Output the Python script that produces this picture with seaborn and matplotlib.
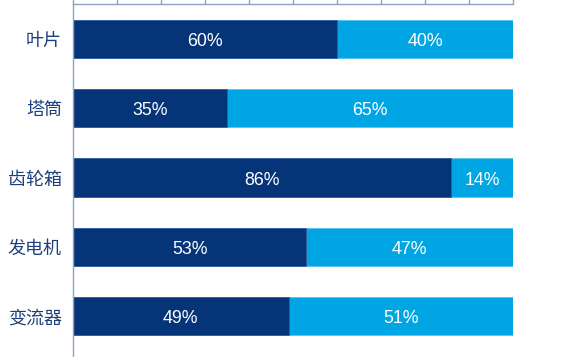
import matplotlib
matplotlib.use("Agg")
import matplotlib.pyplot as plt
import seaborn as sns
import pandas as pd

categories = ["叶片", "塔筒", "齿轮箱", "发电机", "变流器"]
dark_values = [60, 35, 86, 53, 49]
light_values = [40, 65, 14, 47, 51]

df = pd.DataFrame({"cat": categories, "dark": dark_values, "light": light_values})
df["total"] = df["dark"] + df["light"]

sns.set_style("white")
plt.rcParams["font.family"] = ["Liberation Sans", "Noto Sans CJK SC", "DejaVu Sans"]

DARK = "#063479"
LIGHT = "#00a6e4"
AXC = "#8ea2c6"

fig = plt.figure(figsize=(5.75, 3.57), dpi=100)
ax = fig.add_axes([73 / 575, (357 - 358) / 357, 440 / 575, 354 / 357])

sns.barplot(data=df, y="cat", x="total", orient="h", color=LIGHT, width=0.55,
            saturation=1, ax=ax, edgecolor="#5cc3ee", linewidth=0.6)
sns.barplot(data=df, y="cat", x="dark", orient="h", color=DARK, width=0.55,
            saturation=1, ax=ax, edgecolor="#3a5c9c", linewidth=0.6)

for i, (d, l) in enumerate(zip(dark_values, light_values)):
    for xc, v in ((d / 2, d), (d + l / 2, l)):
        ax.annotate(f"{v}%", xy=(xc, i), xytext=(0, -1.8), textcoords="offset points",
                    ha="center", va="center", color="white", fontsize=12.8)

ax.set_xlim(0, 100)
ax.set_ylim(4.6, -0.5)
ax.set_xlabel("")
ax.set_ylabel("")
ax.xaxis.tick_top()
ax.set_xticks(range(0, 101, 10))
ax.tick_params(axis="x", which="both", length=6, color=AXC, width=1, labeltop=False, labelbottom=False, direction="out")
ax.tick_params(axis="y", length=0, pad=8, labelsize=13, labelcolor="#1d3f7c")
for lab in ax.get_yticklabels():
    lab.set_fontfamily(["Noto Sans CJK SC", "DejaVu Sans"])

for s in ["right", "bottom"]:
    ax.spines[s].set_visible(False)
for s in ["top", "left"]:
    ax.spines[s].set_color(AXC)
    ax.spines[s].set_linewidth(1)
ax.grid(False)

fig.savefig("out.png", dpi=100)
